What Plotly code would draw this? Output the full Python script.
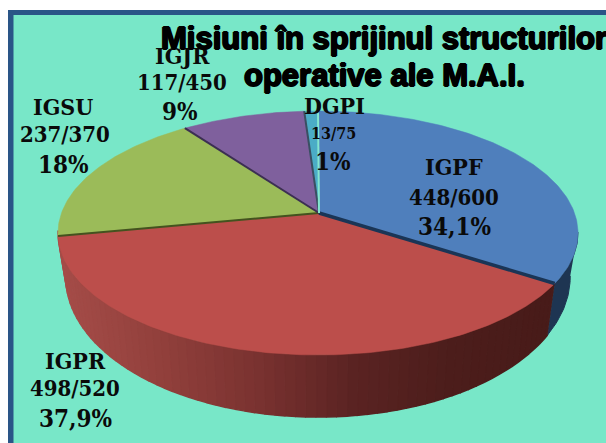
import math
import plotly.graph_objects as go

# --- data ---
categories = ["IGPF", "IGPR", "IGSU", "IGJR", "DGPI"]
shares = [34.1, 37.9, 18, 9, 1]
ratios = ["448/600", "498/520", "237/370", "117/450", "13/75"]
share_labels = ["34,1%", "37,9%", "18%", "9%", "1%"]
top_colors = ["#4F7FBC", "#BC4E4B", "#9BBB59", "#7F609D", "#4BACC6"]
edge_colors = ["#1A3556", "#44521F", "#3C2F52", "#3A4F62", "#84E6CF"]
title_lines = ["Misiuni în sprijinul structurilor", "operative ale M.A.I."]

# --- drawing style / projection ---
CX, CY, R, RY, SHIFT, K = 318, 233, 256.5, 122, 20, 0.164
BG, FRAME = "#78E7C8", "#2A5587"
FONT = "DejaVu Serif Condensed, DejaVu Serif, serif"
label_pos = {
    "IGPF": [(454, 166, 23), (454, 197, 22), (454, 226, 24)],
    "IGPR": [(75, 360, 23), (75, 388, 22), (75, 418, 24)],
    "IGSU": [(63, 106, 23), (65, 134, 22), (63, 164, 24)],
    "IGJR": [(182, 55, 23), (182, 82, 22), (180, 111, 24)],
    "DGPI": [(334, 105, 23), (333, 133, 16), (333, 161, 24)],
}


def project(frac, level=0.0):
    """fraction of the circle (clockwise from top) -> plot coordinates"""
    a = 2 * math.pi * frac
    u, v = math.sin(a), math.cos(a)
    w = 1 + K * v
    x, y = u * R / w, (RY * v + SHIFT) / w
    if level:
        x, y = x * 0.97, y * 1.148 - 44
    return CX + x, CY - y


def arc(f0, f1, level=0.0):
    n = max(2, int(abs(f1 - f0) * 400))
    return [project(f0 + (f1 - f0) * i / n, level) for i in range(n + 1)]


def mix(stops, t):
    t = max(0, min(1, t)) * (len(stops) - 1)
    i = min(int(t), len(stops) - 2)
    f = t - i
    a, b = stops[i], stops[i + 1]
    return "#%02x%02x%02x" % tuple(round(a[k] + (b[k] - a[k]) * f) for k in range(3))


fig = go.Figure()


def poly(pts, color, width=1.0):
    fig.add_trace(go.Scatter(
        x=[p[0] for p in pts], y=[p[1] for p in pts], mode="lines", fill="toself",
        fillcolor=color, line=dict(color=color, width=width), hoverinfo="skip", showlegend=False))


total = sum(shares)
bounds = [0]
for s in shares:
    bounds.append(bounds[-1] + s / total)

# side wall
poly(arc(0.275, bounds[1]) + arc(bounds[1], 0.275, 1), "#1E3552")
red_stops = [(165, 76, 72), (146, 64, 60), (122, 50, 48), (90, 35, 34), (76, 29, 27), (72, 27, 25)]
f0, f1 = bounds[1], 0.727
N = 70
for i in range(N):
    a, b = f0 + (f1 - f0) * i / N, f0 + (f1 - f0) * (i + 1) / N
    x_mid = project((a + b) / 2)[0]
    poly(arc(a, b) + arc(b, a, 1), mix(red_stops, (x_mid - 60) / 490), 1.5)

# top face
apex = (CX + 1, CY - SHIFT)
for i, c in enumerate(categories):
    poly([apex] + arc(bounds[i], bounds[i + 1]) + [apex], top_colors[i], 0.5)
for i, f in enumerate(bounds[1:]):
    p = project(f)
    fig.add_trace(go.Scatter(x=[apex[0], p[0]], y=[apex[1], p[1]], mode="lines",
                             line=dict(color=edge_colors[i], width=3.5 if i == 0 else 2),
                             hoverinfo="skip", showlegend=False))

annotations = []
for c, ratio, pct in zip(categories, ratios, share_labels):
    for text, (x, y, size) in zip((c, ratio, pct), label_pos[c]):
        annotations.append(dict(x=x, y=y, text="<b>%s</b>" % text, showarrow=False, xanchor="center",
                                yanchor="middle", font=dict(family=FONT, size=size, color="#0a0a0a")))
shadow = "1px 0 0 #000, -1px 0 0 #000, 0 1px 0 #000, 0 -1px 0 #000"
for text, (x, y) in zip(title_lines, [(384, 38), (384, 75)]):
    annotations.append(dict(x=x, y=y, text="<b>%s</b>" % text, showarrow=False, xanchor="center", yanchor="middle",
                            font=dict(family="Liberation Sans, Arial, sans-serif", size=31, color="#000", shadow=shadow)))

fig.update_layout(
    width=606, height=443, margin=dict(l=0, r=0, t=0, b=0),
    paper_bgcolor="white", plot_bgcolor="white", showlegend=False,
    xaxis=dict(range=[0, 606], visible=False, fixedrange=True),
    yaxis=dict(range=[443, 0], visible=False, fixedrange=True),
    annotations=annotations,
    shapes=[
        dict(type="rect", layer="below", x0=8, x1=606, y0=10, y1=443, fillcolor=FRAME, line_width=0),
        dict(type="rect", layer="below", x0=13.5, x1=606, y0=15, y1=443, fillcolor=BG, line_width=0),
    ],
)
fig.write_html("out.html", config={"displayModeBar": False},
               post_script="document.body.style.margin='0';document.documentElement.style.overflow='hidden';")
